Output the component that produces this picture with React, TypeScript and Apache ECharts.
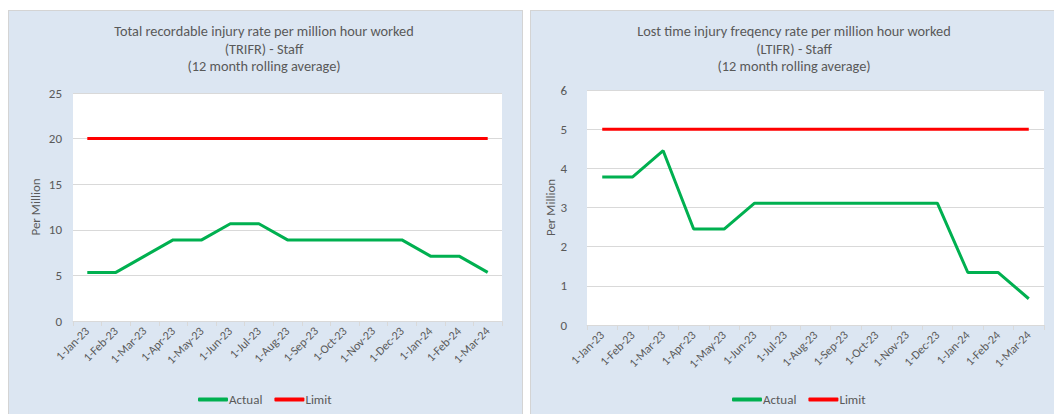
import React, { useEffect, useRef } from "react";
import * as echarts from "echarts";

const categories = [
  "1-Jan-23", "1-Feb-23", "1-Mar-23", "1-Apr-23", "1-May-23", "1-Jun-23", "1-Jul-23",
  "1-Aug-23", "1-Sep-23", "1-Oct-23", "1-Nov-23", "1-Dec-23", "1-Jan-24", "1-Feb-24", "1-Mar-24",
];
const trifrActual = [5.33, 5.33, 7.11, 8.89, 8.89, 10.67, 10.67, 8.89, 8.89, 8.89, 8.89, 8.89, 7.11, 7.11, 5.33];
const trifrLimit = [20, 20, 20, 20, 20, 20, 20, 20, 20, 20, 20, 20, 20, 20, 20];
const ltifrActual = [3.78, 3.78, 4.45, 2.45, 2.45, 3.11, 3.11, 3.11, 3.11, 3.11, 3.11, 3.11, 1.34, 1.34, 0.67];
const ltifrLimit = [5, 5, 5, 5, 5, 5, 5, 5, 5, 5, 5, 5, 5, 5, 5];
const leftTitle = [
  "Total recordable injury rate per million hour worked",
  "(TRIFR) - Staff",
  "(12 month rolling average)",
];
const rightTitle = [
  "Lost time injury freqency rate per million hour worked",
  "(LTIFR) - Staff",
  "(12 month rolling average)",
];

const FONT = "Carlito, Lato, 'Open Sans', sans-serif";
const TXT = "#595959";
const GREEN = "#00b050";
const RED = "#ff0000";
const GRID_LINE = "#d9d9d9";

export default function App() {
  const ref = useRef<HTMLDivElement>(null);
  useEffect(() => {
    if (!ref.current) return;
    const chart = echarts.init(ref.current, undefined, { renderer: "svg" });
    const xAxisBase = (gridIndex: number) => ({
      type: "category",
      gridIndex,
      data: categories,
      boundaryGap: true,
      axisLine: { lineStyle: { color: GRID_LINE, width: 1 } },
      axisTick: { show: true, length: 5, lineStyle: { color: GRID_LINE } },
      axisLabel: {
        rotate: 45,
        interval: 0,
        color: TXT,
        fontFamily: FONT,
        fontSize: 12,
        margin: 8,
      },
    });
    const yAxisBase = (gridIndex: number, max: number, interval: number, nameGap: number, labelMargin: number) => ({
      type: "value",
      gridIndex,
      min: 0,
      max,
      interval,
      name: "Per Million",
      nameLocation: "middle",
      nameGap,
      nameRotate: 90,
      nameTextStyle: { color: TXT, fontFamily: FONT, fontSize: 13 },
      axisLine: { show: false },
      axisTick: { show: false },
      axisLabel: { color: TXT, fontFamily: FONT, fontSize: 13, margin: labelMargin },
      splitLine: { show: true, lineStyle: { color: GRID_LINE, width: 1 } },
    });
    const titleTexts = (lines: string[], cx: number) =>
      lines.map((t, i) => ({
        type: "text",
        x: cx,
        y: 31 + i * 17.5,
        style: {
          text: t,
          textAlign: "center",
          textVerticalAlign: "middle",
          fill: TXT,
          font: `14.3px ${FONT}`,
        },
      }));
    const legendBase = (cx: number) => ({
      data: ["Actual", "Limit"],
      left: cx,
      top: 388,
      itemWidth: 30,
      itemHeight: 4,
      itemGap: 12,
      icon: "roundRect",
      textStyle: { color: TXT, fontFamily: FONT, fontSize: 13, padding: [0, 0, 0, -4] },
    });
    const lineSeries = (name: string, data: number[], color: string, idx: number) => ({
      name,
      type: "line",
      xAxisIndex: idx,
      yAxisIndex: idx,
      data,
      symbol: "none",
      lineStyle: { color, width: 3 },
      itemStyle: { color },
    });
    chart.setOption({
      animation: false,
      backgroundColor: "transparent",
      grid: [
        { left: 73, right: 552, top: 93, bottom: 93, show: true, backgroundColor: "#ffffff", borderWidth: 0 },
        { left: 587, right: 10, top: 90, bottom: 89, show: true, backgroundColor: "#ffffff", borderWidth: 0 },
      ],
      xAxis: [xAxisBase(0), xAxisBase(1)],
      yAxis: [yAxisBase(0, 25, 5, 31, 11), yAxisBase(1, 6, 1, 23, 20)],
      legend: [legendBase(193), legendBase(727)],
      graphic: [...titleTexts(leftTitle, 264), ...titleTexts(rightTitle, 794)],
      series: [
        lineSeries("Actual", trifrActual, GREEN, 0),
        lineSeries("Limit", trifrLimit, RED, 0),
        lineSeries("Actual", ltifrActual, GREEN, 1),
        lineSeries("Limit", ltifrLimit, RED, 1),
      ],
    });
    return () => chart.dispose();
  }, []);

  return (
    <div style={{ position: "fixed", left: 0, top: 0, width: 1054, height: 414, background: "#ffffff", overflow: "hidden" }}>
      <div
        style={{
          position: "absolute", left: 8, top: 10, width: 515, height: 410,
          background: "#dce6f2", border: "1px solid #d4d4d4", boxSizing: "border-box",
        }}
      />
      <div
        style={{
          position: "absolute", left: 530, top: 10, width: 530, height: 410,
          background: "#dce6f2", border: "1px solid #d4d4d4", boxSizing: "border-box",
        }}
      />
      <div ref={ref} style={{ position: "absolute", left: 0, top: 0, width: 1054, height: 414 }} />
    </div>
  );
}
